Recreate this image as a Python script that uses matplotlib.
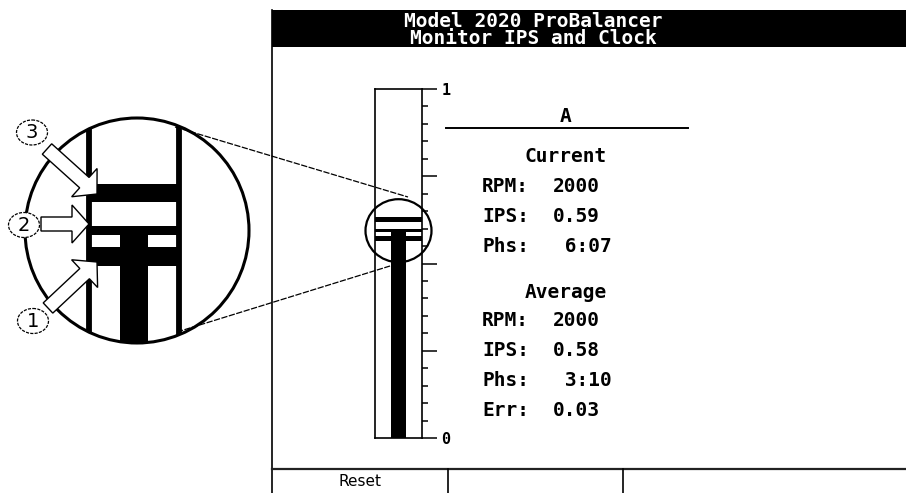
import matplotlib
matplotlib.use("Agg")
import matplotlib.pyplot as plt
from matplotlib.patches import Ellipse, Rectangle, FancyArrow
from matplotlib.ticker import FixedLocator, MultipleLocator

# ---------------- data ----------------
title_lines = ["Model 2020 ProBalancer", "Monitor IPS and Clock"]
channel = "A"
current_title = "Current"
current_labels = ["RPM:", "IPS:", "Phs:"]
current_values = ["2000", "0.59", " 6:07"]
average_title = "Average"
average_labels = ["RPM:", "IPS:", "Phs:", "Err:"]
average_values = ["2000", "0.58", " 3:10", "0.03"]
softkeys = ["Reset", "", ""]
ips_current = 0.59
ips_average = 0.58
ips_peak = 0.633
gauge_ticks = [0, 0.25, 0.5, 0.75, 1]
gauge_tick_labels = ["0", "", "", "", "1"]
callout_numbers = ["1", "2", "3"]

# ---------------- style / layout ----------------
W, H = 906, 493
MONO = "DejaVu Sans Mono"
fig = plt.figure(figsize=(W / 100, H / 100), dpi=100)
fig.patch.set_facecolor("white")


def px_axes(z):
    a = fig.add_axes([0, 0, 1, 1], zorder=z)
    a.set_xlim(0, W)
    a.set_ylim(H, 0)
    a.axis("off")
    a.patch.set_alpha(0)
    return a


ax_bg = px_axes(0)

# screen frame
ax_bg.add_patch(Rectangle((272, 10), W - 272, 37, color="black", lw=0))
ax_bg.plot([272, 272], [10, H], color="black", lw=1.2)
ax_bg.plot([272, W], [469, 469], color="#222222", lw=1.6)
for xd in (448, 623):
    ax_bg.plot([xd, xd], [469, H], color="black", lw=1.2)
ax_bg.text(533, 21.5, title_lines[0], color="white", fontsize=14, family=MONO,
           fontweight="bold", ha="center", va="center")
ax_bg.text(533, 39, title_lines[1], color="white", fontsize=14, family=MONO,
           fontweight="bold", ha="center", va="center")
key_x = [360, 536, 765]
for kx, lab in zip(key_x, softkeys):
    ax_bg.text(kx, 481, lab, fontsize=11, family="DejaVu Sans", ha="center", va="center")

# readout panel
ax_bg.text(566, 117, channel, fontsize=14, family=MONO, fontweight="bold",
           ha="center", va="center")
ax_bg.plot([446, 688], [128, 128], color="black", lw=1.4)
ax_bg.text(566, 157, current_title, fontsize=14, family=MONO, fontweight="bold",
           ha="center", va="center")
for yy, lab, val in zip([187, 217, 247], current_labels, current_values):
    ax_bg.text(482, yy, lab, fontsize=14, family=MONO, fontweight="bold", va="center")
    ax_bg.text(553, yy, val, fontsize=14, family=MONO, fontweight="bold", va="center")
ax_bg.text(566, 292, average_title, fontsize=14, family=MONO, fontweight="bold",
           ha="center", va="center")
for yy, lab, val in zip([320, 350, 380, 410], average_labels, average_values):
    ax_bg.text(482, yy, lab, fontsize=14, family=MONO, fontweight="bold", va="center")
    ax_bg.text(553, yy, val, fontsize=14, family=MONO, fontweight="bold", va="center")

# ---------------- gauge ----------------
GX0, GX1, GY0, GY1 = 375, 422, 89, 438
ax_g = fig.add_axes([GX0 / W, 1 - GY1 / H, (GX1 - GX0) / W, (GY1 - GY0) / H], zorder=1)
ax_g.patch.set_alpha(0)
ax_g.set_xlim(0, 1)
ax_g.set_ylim(0, 1)
ax_g.set_xticks([])
ax_g.yaxis.tick_right()
ax_g.yaxis.set_major_locator(FixedLocator(gauge_ticks))
ax_g.yaxis.set_minor_locator(MultipleLocator(0.05))
ax_g.set_yticklabels(gauge_tick_labels)
for t in ax_g.get_yticklabels():
    t.set_fontfamily(MONO)
    t.set_fontweight("bold")
    t.set_fontsize(11)
ax_g.tick_params(axis="y", which="major", length=10.8, width=1.1, pad=3, direction="out")
ax_g.tick_params(axis="y", which="minor", length=4.3, width=1.1, direction="out")
for s in ax_g.spines.values():
    s.set_linewidth(1.2)

STEM_W = 0.32
T_TH = 0.016
L2_TH = 0.008
P_TH = 0.015


def draw_levels(ax, clip=None):
    arts = []
    arts += list(ax.bar(0.5, ips_current, width=STEM_W, color="black", lw=0))
    arts += list(ax.bar(0.5, T_TH, bottom=ips_average - T_TH, width=1, color="black", lw=0))
    arts += list(ax.bar(0.5, L2_TH, bottom=ips_current, width=1, color="black", lw=0))
    arts += list(ax.bar(0.5, P_TH, bottom=ips_peak - P_TH, width=1, color="black", lw=0))
    if clip is not None:
        for a in arts:
            a.set_clip_path(clip)
    return arts


draw_levels(ax_g)

# ---------------- magnified view ----------------
ZOOM_VALUE = 0.594
MX0, MX1, MY0, MY1 = 25, 249, 118, 343
PX_PER_VAL = 1187.0
wall_l, wall_r = 89, 179
ax_m = fig.add_axes([MX0 / W, 1 - MY1 / H, (MX1 - MX0) / W, (MY1 - MY0) / H], zorder=2)
ax_m.axis("off")
ax_m.patch.set_alpha(0)
gw = wall_r - wall_l
ax_m.set_xlim((MX0 - wall_l) / gw, (MX1 - wall_l) / gw)
half = (MY1 - MY0) / 2 / PX_PER_VAL
ax_m.set_ylim(ZOOM_VALUE - half, ZOOM_VALUE + half)
clip = Ellipse((0.5, 0.5), 1, 1, transform=ax_m.transAxes, facecolor="none", edgecolor="none")
ax_m.add_patch(clip)
draw_levels(ax_m, clip)
for xv in (0, 1):
    ln = ax_m.axvline(xv, color="black", lw=4.2)
    ln.set_clip_path(clip)
ax_m.add_patch(Ellipse((0.5, 0.5), 1, 1, transform=ax_m.transAxes, fill=False,
                       edgecolor="black", lw=2.2, clip_on=False))

# ---------------- overlay: zoom circle, lines, arrows ----------------
ax_t = px_axes(3)
disp = ax_g.transData.transform((0.5, ZOOM_VALUE))
cx, cy = ax_t.transData.inverted().transform(disp)
ax_t.add_patch(Ellipse((cx, cy), 66, 63, fill=False, edgecolor="black", lw=1.6))
ax_t.plot([175, 408], [127, 197], color="black", lw=0.9, ls=(0, (5, 1.2)))
ax_t.plot([177, 390], [332, 266], color="black", lw=0.9, ls=(0, (5, 1.2)))

arrows = {"3": ((47, 149), (97, 194)),
          "2": ((41, 224), (89, 224)),
          "1": ((48, 308), (97, 262))}
circles = {"3": (32, 132.5), "2": (24, 225), "1": (33, 321)}
for n in callout_numbers:
    (x0, y0), (x1, y1) = arrows[n]
    ax_t.add_patch(FancyArrow(x0, y0, x1 - x0, y1 - y0, width=14, head_width=38,
                              head_length=17, length_includes_head=True,
                              facecolor="white", edgecolor="black", lw=1.0))
for n in callout_numbers:
    ex, ey = circles[n]
    ax_t.add_patch(Ellipse((ex, ey), 31, 25, facecolor="white", edgecolor="black",
                           lw=0.9, ls=(0, (2.5, 1))))
    ax_t.text(ex, ey + 0.5, n, fontsize=14, family="DejaVu Sans", ha="center", va="center")

fig.savefig("out.png", dpi=100, facecolor="white")
